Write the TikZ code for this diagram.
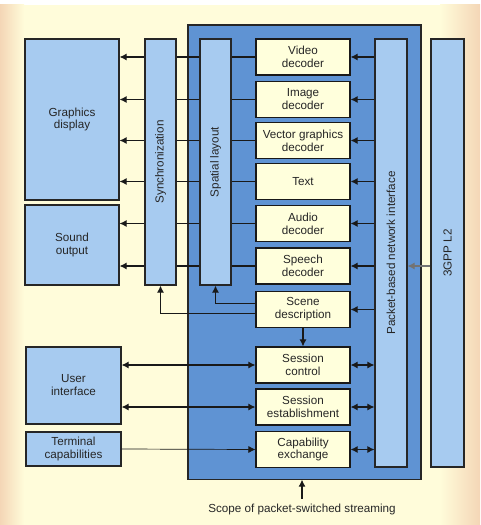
\documentclass[tikz,border=0pt]{standalone}
\usepackage{fontspec}
\setmainfont{Liberation Sans}
\usetikzlibrary{positioning}
\usetikzlibrary{shapes,arrows,arrows.meta,positioning,calc}

\definecolor{bgyel}{HTML}{FFFCDA}
\definecolor{peach}{HTML}{F4D6B6}
\definecolor{scopeblue}{HTML}{5F93D3}
\definecolor{boxblue}{HTML}{A7CBF0}
\definecolor{decyel}{HTML}{FFFFDC}

\pgfdeclarelayer{bg}
\pgfdeclarelayer{lines}
\pgfsetlayers{bg,lines,main}

\tikzset{
    txt/.style={font=\fontsize{8.3}{9.2}\selectfont, text=black!85},
    blk/.style={txt, draw=black!85, fill=boxblue, line width=0.8pt, align=center, inner sep=1pt},
    bar/.style={blk, minimum width=0.8cm, minimum height=6.15cm},
    dec/.style={txt, draw=black!90, fill=decyel, line width=0.8pt, align=center,
        inner sep=1pt, minimum width=2.35cm, minimum height=0.9cm},
    con/.style={>={Latex[length=5pt,width=5pt]}, line width=0.8pt, black!90},
}

\begin{document}
\begin{tikzpicture}[x=0.025cm, y=-0.025cm]
    \useasboundingbox (0,0) rectangle (480,525);

    \begin{pgfonlayer}{bg}
        % paper
        \fill[white] (0,0) rectangle (480,525);
        \fill[bgyel] (0,5) rectangle (480,525);
        \shade[left color=peach, right color=bgyel] (0,5) rectangle (24,525);
        \shade[left color=bgyel, right color=peach] (440,5) rectangle (480,525);
        % scope of streaming
        \node[draw=black!85, fill=scopeblue, line width=0.8pt,
            minimum width=5.825cm, minimum height=11.35cm] (scope) at (304.5,252) {};
    \end{pgfonlayer}

    % terminal side
    \node[blk, minimum width=2.35cm, minimum height=4.025cm] (gfx) at (72,119.5) {Graphics\\display};
    \node[blk, minimum width=2.35cm, minimum height=2cm] (snd) at (72,245) {Sound\\output};
    \node[blk, minimum width=2.375cm, minimum height=1.925cm] (ui) at (73.5,385.5) {User\\interface};
    \node[blk, minimum width=2.375cm, minimum height=0.85cm] (term) at (73.5,449) {Terminal\\capabilities};

    % vertical bars
    \node[bar, minimum width=0.775cm, label={[txt, rotate=90]center:Synchronization}] (sync) at (160.5,162) {};
    \node[bar, minimum width=0.775cm, label={[txt, rotate=90]center:Spatial layout}] (spat) at (215.5,162) {};
    \node[bar, minimum height=10.7cm, label={[txt, rotate=90]center:Packet-based network interface}] (pkt) at (391,253) {};
    \node[bar, minimum width=0.825cm, minimum height=10.7cm, label={[txt, rotate=90]center:3GPP L2}] (ltwo) at (447.5,253) {};

    % decoders
    \node[dec] (vid) at (303,57) {Video\\decoder};
    \node[dec] (img) at (303,99.5) {Image\\decoder};
    \node[dec] (vec) at (303,140.5) {Vector graphics\\decoder};
    \node[dec] (text) at (303,181.5) {Text};
    \node[dec] (aud) at (303,223.5) {Audio\\decoder};
    \node[dec] (spch) at (303,266) {Speech\\decoder};
    \node[dec] (scene) at (303,309.5) {Scene\\description};

    % session
    \node[dec] (sctl) at (303,365) {Session\\control};
    \node[dec] (sest) at (303,407) {Session\\establishment};
    \node[dec] (cap) at (303,449.5) {Capability\\exchange};

    \node[txt] (scopetxt) at (302,509) {Scope of packet-switched streaming};

    \begin{pgfonlayer}{lines}
        % media to display and sound
        \foreach \n in {vid,img,vec,text}
            \draw[con,->] (\n.west) -- (gfx.east |- \n);
        \foreach \n in {aud,spch}
            \draw[con,->] (\n.west) -- (snd.east |- \n);
    \end{pgfonlayer}

    % network to decoders
    \foreach \n in {vid,img,vec,text,aud,spch,scene}
        \draw[con,->] (pkt.west |- \n) -- (\n.east);
    \draw[con,->, black!55] (ltwo.west |- spch) -- (pkt.east |- spch);

    % scene description
    \draw[con,->] ([yshift=0.16cm]scene.west) -| (spat.south);
    \draw[con,->] ([yshift=-0.1cm]scene.west) -| (sync.south);
    \draw[con,->] (scene.south) -- (sctl.north);

    % session
    \foreach \n in {sctl,sest,cap}
        \draw[con,<->] (pkt.west |- \n) -- (\n.east);
    \draw[con,<->] (ui.east |- sctl) -- (sctl.west);
    \draw[con,<->] (ui.east |- sest) -- (sest.west);
    \draw[con,->, line width=0.5pt] (term.east) -- (cap.west);

    \draw[con,->] (scopetxt.north) -- (scopetxt.north |- scope.south);
\end{tikzpicture}
\end{document}
